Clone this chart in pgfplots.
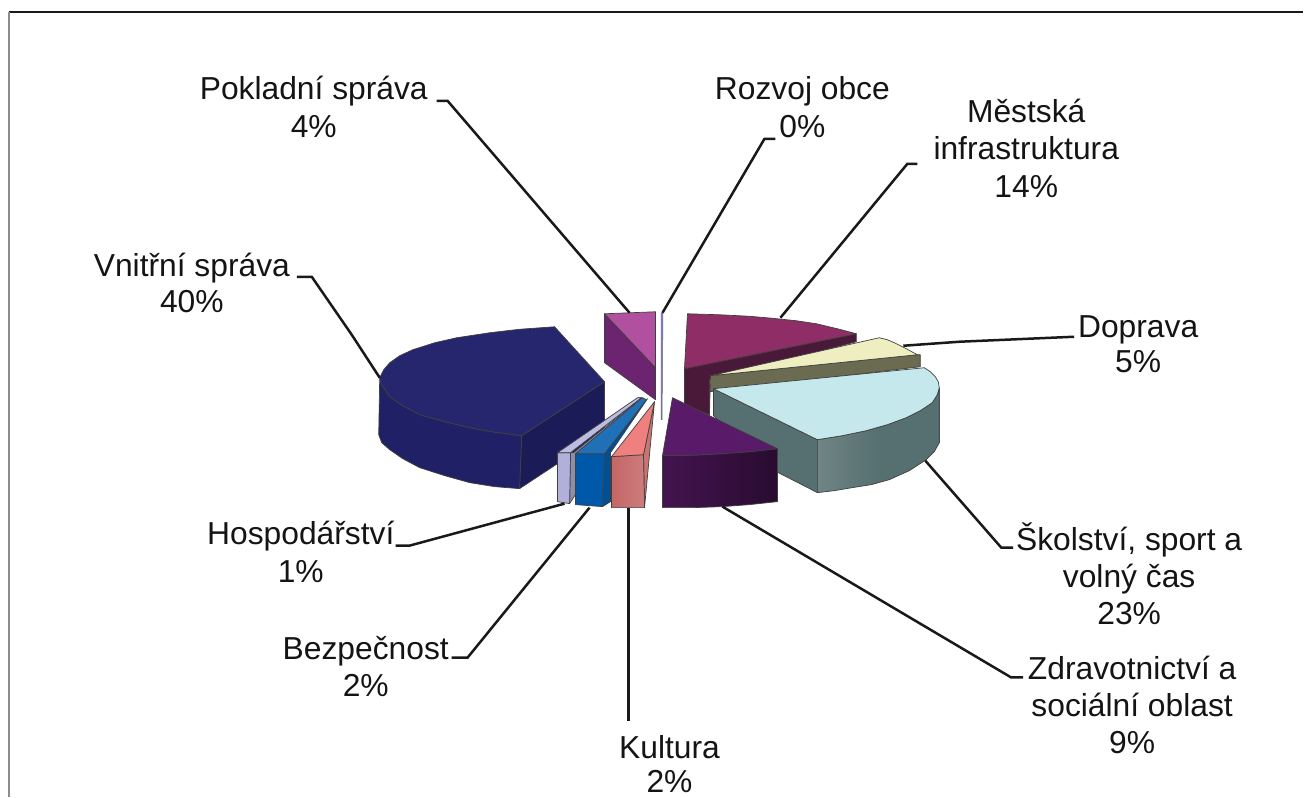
\documentclass[border=0pt]{standalone}
\usepackage{pgfplots}
\pgfplotsset{compat=1.18}
\usepackage{fontspec}
\setmainfont{Liberation Sans}
\definecolor{navyT}{HTML}{26266E}
\definecolor{navyF}{HTML}{1F2066}
\definecolor{navyR}{HTML}{1B1B58}
\definecolor{pinkT}{HTML}{B0509E}
\definecolor{pinkS}{HTML}{6C2470}
\definecolor{lavT}{HTML}{BCBCE2}
\definecolor{lavF}{HTML}{B0B0D8}
\definecolor{bluT}{HTML}{2070B8}
\definecolor{bluF}{HTML}{0058A8}
\definecolor{redT}{HTML}{F08080}
\definecolor{redF}{HTML}{C46666}
\definecolor{purT}{HTML}{5A1A6A}
\definecolor{mesT}{HTML}{8E2D66}
\definecolor{mesS}{HTML}{4A1838}
\definecolor{dopT}{HTML}{EEEEC0}
\definecolor{dopS}{HTML}{6B6B52}
\definecolor{skoT}{HTML}{C4E8EC}
\definecolor{skoS}{HTML}{566F70}
\newcommand{\lab}[3]{\node[anchor=base,font=\fontsize{31.8}{32}\selectfont,text=black!92,inner sep=0pt] at (axis cs:#1,#2) {#3};}
\begin{document}
\begin{tikzpicture}
\begin{axis}[
  scale only axis, width=1304pt, height=798pt,
  xmin=0, xmax=1304, ymin=0, ymax=798, y dir=reverse,
  hide axis, clip=false,
  edge/.style={draw=black!75, line width=0.7pt, line join=round},
  lead/.style={draw=black!90, line width=2.5pt, line join=miter},
]
% invisible page corners
\addplot[draw=none, forget plot] coordinates {(0,0) (1304,798)};
% frame
\addplot[draw=black!90, line width=2pt] coordinates {(9,12) (1304,12)};
\addplot[draw=black!45, line width=1.2pt] coordinates {(9,12) (9,798)};

% Mestska infrastruktura
\addplot[edge, fill=mesS] coordinates {(685,369) (857,334) (857,342) (710,380) (710,415) (685,407)} -- cycle;
\addplot[edge, fill=mesT] coordinates {(688,314) (720,315) (750,316.5) (773,318.5) (797,321) (817,324) (838,329) (857,334) (685,369)} -- cycle;
% Doprava
\addplot[edge, fill=dopS] coordinates {(711,376) (918,355) (921,355) (921,367) (710,392) (710,415)} -- cycle;
\addplot[edge, fill=dopT] coordinates {(711,376) (880,338) (888,340) (895,343) (907,349) (918,355)} -- cycle;
% Skolstvi
\addplot[edge, fill=skoS] coordinates {(714,389) (818,440) (818,493) (777,472) (714,416)} -- cycle;
\addplot[edge, left color=skoS!85!white, right color=skoS, middle color=skoS] coordinates {(818,440) (843,436) (867,431) (888,425) (907,418) (921,411) (933,403) (938,395) (940,388) (940,443) (935,452) (927,460) (910,471) (890,480) (872,485) (853,488) (835,491) (818,493)} -- cycle;
\addplot[edge, fill=skoT] coordinates {(714,389) (925,368) (931,372) (936,377) (939,382) (940,388) (938,395) (933,403) (921,411) (907,418) (888,425) (867,431) (843,436) (818,440)} -- cycle;
% Zdravotnictvi
\addplot[edge, left color=purT!75!black, right color=purT!45!black] coordinates {(663,456) (695,455.5) (723,454) (750,452) (778,449) (778,502) (750,505) (723,507) (695,508) (663,508)} -- cycle;
\addplot[edge, fill=purT] coordinates {(673,398) (778,449) (750,452) (723,454) (695,455.5) (663,456)} -- cycle;
% Pokladni sprava
\addplot[edge, fill=pinkS] coordinates {(605,314) (656,368) (656,400) (605,363)} -- cycle;
\addplot[edge, fill=pinkT] coordinates {(605,314) (656,312) (656,368)} -- cycle;
% Rozvoj obce
\addplot[draw=black!60, line width=0.5pt, fill=lavT!70!blue] coordinates {(661.5,313) (663.5,313) (662.5,420) (661.5,420)} -- cycle;
% Vnitrni sprava
\addplot[edge, fill=navyR] coordinates {(522,436) (605,382) (605,433) (520,489)} -- cycle;
\addplot[edge, fill=navyF] coordinates {(380,378) (382,385) (390,397) (403,406) (420,415) (445,422) (470,428) (495,432.5) (522,436) (520,489) (495,487) (470,483) (445,476) (420,468) (403,459) (390,450) (382,443) (379,435)} -- cycle;
\addplot[edge, fill=navyT] coordinates {(522,436) (605,382) (555,327) (520,329.5) (490,333) (457,338) (435,343) (413,350) (400,356) (390,363) (384,370) (380,378) (382,385) (390,397) (403,406) (420,415) (445,422) (470,428) (495,432.5)} -- cycle;
% Hospodarstvi
\addplot[edge, fill=lavF!80!black] coordinates {(571,453) (574,453) (642,398) (639,398) (570,504)} -- cycle;
\addplot[edge, fill=lavF] coordinates {(558,453) (571,453) (570,504) (558,502)} -- cycle;
\addplot[edge, fill=lavT] coordinates {(558,453) (571,453) (642,398) (638,398)} -- cycle;
% Bezpecnost
\addplot[edge, fill=bluF!90!black] coordinates {(605,454) (603,507) (611,502) (611,453) (648,399)} -- cycle;
\addplot[edge, fill=bluF] coordinates {(576,454) (605,454) (603,507) (576,505)} -- cycle;
\addplot[edge, fill=bluT] coordinates {(576,454) (605,454) (647,400) (643,398)} -- cycle;
% Kultura
\addplot[edge, fill=redF!90!white] coordinates {(644,455) (645,508) (655,402)} -- cycle;
\addplot[edge, left color=redF, right color=redF!85!white] coordinates {(612,457) (644,455) (645,508) (612,508)} -- cycle;
\addplot[edge, fill=redT] coordinates {(612,457) (644,455) (655,402)} -- cycle;

% leader lines
\addplot[lead] coordinates {(437,101) (448,101) (630,313)};
\addplot[lead] coordinates {(776,139) (765,139) (663,313)};
\addplot[lead] coordinates {(918,164) (908,164) (781,318)};
\addplot[lead] coordinates {(1075,337) (960,342) (904,346)};
\addplot[lead] coordinates {(926,461) (1002,548) (1014,548)};
\addplot[lead] coordinates {(723,507) (1012,678) (1024,678)};
\addplot[lead] coordinates {(629,508) (629,722)};
\addplot[lead] coordinates {(590,508) (468,658) (452,658)};
\addplot[lead] coordinates {(565,504) (410,546) (396,546)};
\addplot[lead] coordinates {(380,378) (352,335) (312,277) (297,277)};

% labels
\lab{314}{100}{Pokladní správa}
\lab{314}{138}{4\%}
\lab{803}{100}{Rozvoj obce}
\lab{803}{138}{0\%}
\lab{1027}{123}{Městská}
\lab{1027}{160}{infrastruktura}
\lab{1027}{198}{14\%}
\lab{1139}{338}{Doprava}
\lab{1139}{373}{5\%}
\lab{1130}{551}{Školství, sport a}
\lab{1130}{588}{volný čas}
\lab{1130}{625}{23\%}
\lab{1133}{680}{Zdravotnictví a}
\lab{1133}{717}{sociální oblast}
\lab{1133}{754}{9\%}
\lab{670}{759}{Kultura}
\lab{670}{793}{2\%}
\lab{366}{660}{Bezpečnost}
\lab{366}{697}{2\%}
\lab{301}{545}{Hospodářství}
\lab{301}{583}{1\%}
\lab{192}{277}{Vnitřní správa}
\lab{192}{313}{40\%}
\end{axis}
\end{tikzpicture}
\end{document}
